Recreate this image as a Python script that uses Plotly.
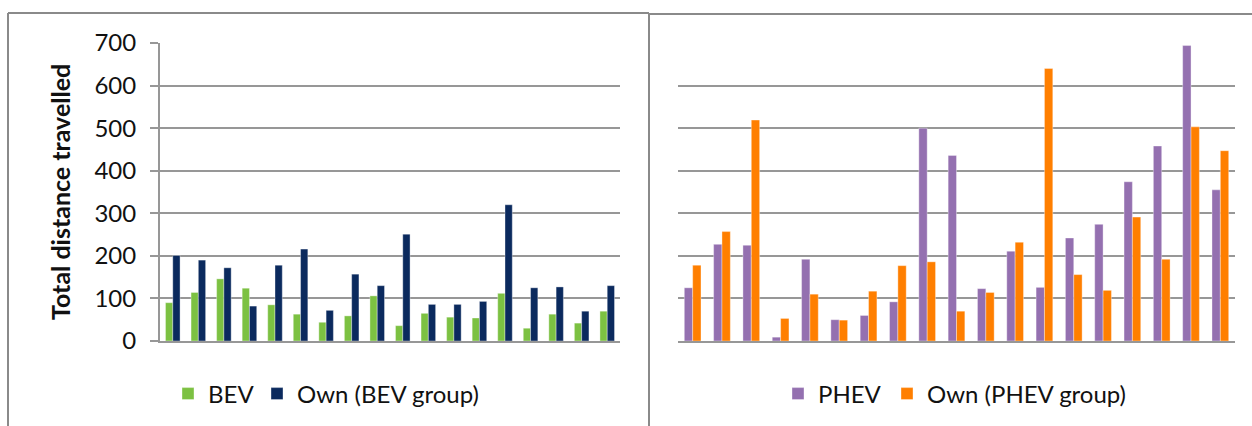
import plotly.graph_objects as go

# --- data -------------------------------------------------------------
bev_ids = [str(i) for i in range(1, 19)]
bev_values = [90, 114, 146, 124, 85, 63, 44, 59, 106, 36, 65, 56, 54, 112, 30, 63, 42, 70]
own_bev_values = [201, 190, 172, 82, 178, 216, 72, 157, 130, 251, 86, 86, 93, 320, 125, 127, 70, 130]

phev_ids = [str(i) for i in range(1, 20)]
phev_values = [125, 227, 225, 9, 192, 50, 60, 92, 500, 436, 123, 211, 126, 242, 274, 374, 458, 694, 355]
own_phev_values = [178, 257, 519, 53, 110, 49, 117, 177, 186, 70, 114, 232, 640, 156, 119, 291, 192, 503, 447]

y_ticks = [0, 100, 200, 300, 400, 500, 600, 700]
y_title = "Total distance travelled"

# --- styling ----------------------------------------------------------
W, H = 1252, 426
FONT = "Lato, 'Open Sans', sans-serif"
GREEN, NAVY = "#7cc142", "#0b2a5e"
PURPLE, ORANGE = "#9470b0", "#ff7f00"
GRID = "#979797"
FRAME = "#8a8a8a"
TEXT = "#111111"


def px_x(x):
    return x / W


def px_y(y):
    return 1 - y / H


fig = go.Figure()

# each series gets its own one-entry legend so the key can be laid out freely
edge = dict(color="rgba(255,255,255,0.6)", width=0.6)
series = [
    (bev_ids, bev_values, "BEV", GREEN, "x", "y", "legend"),
    (bev_ids, own_bev_values, "Own (BEV group)", NAVY, "x", "y", "legend2"),
    (phev_ids, phev_values, "PHEV", PURPLE, "x2", "y2", "legend3"),
    (phev_ids, own_phev_values, "Own (PHEV group)", ORANGE, "x2", "y2", "legend4"),
]
for xs, ys, name, color, xa, ya, lg in series:
    fig.add_trace(go.Bar(x=xs, y=ys, name=name, marker_color=color, marker_line=edge,
                         xaxis=xa, yaxis=ya, legend=lg))

plot_bottom, plot_top = px_y(341), px_y(43)

common_x = dict(showticklabels=False, ticks="", showgrid=False, zeroline=False,
                showline=True, linecolor=GRID, linewidth=2, type="category",
                automargin=False)
common_y = dict(range=[0, 700], tickvals=y_ticks, showgrid=True, gridcolor=GRID,
                gridwidth=2, zeroline=False, domain=[plot_bottom, plot_top],
                automargin=False)

legend_font = dict(family=FONT, size=24, color=TEXT)


def key(text_left):
    return dict(orientation="h", x=px_x(text_left - 40), xanchor="left",
                y=px_y(394), yanchor="middle", font=legend_font,
                bgcolor="rgba(0,0,0,0)")


fig.update_layout(
    width=W, height=H,
    margin=dict(l=0, r=0, t=0, b=0, autoexpand=False),
    paper_bgcolor="white", plot_bgcolor="white",
    barmode="group", bargap=0.43, bargroupgap=0,
    font=dict(family=FONT, color=TEXT),
    xaxis=dict(domain=[px_x(160), px_x(620)], anchor="y", **common_x),
    yaxis=dict(anchor="x", showline=True, linecolor=GRID, linewidth=2,
               ticks="outside", ticklen=8, tickwidth=2, tickcolor=GRID,
               ticklabelstandoff=9,
               tickfont=dict(family=FONT, size=24, color=TEXT), **common_y),
    xaxis2=dict(domain=[px_x(678), px_x(1235)], anchor="y2", **common_x),
    yaxis2=dict(anchor="x2", showline=False, ticks="", showticklabels=False, **common_y),
    legend=key(208),
    legend2=key(297),
    legend3=key(818),
    legend4=key(927),
    showlegend=True,
)

# rotated value-axis title
fig.add_annotation(text=f"<b>{y_title}</b>", textangle=-90, xref="paper", yref="paper",
                   x=px_x(60), y=(plot_bottom + plot_top) / 2, xanchor="center", yanchor="middle",
                   showarrow=False, font=dict(family=FONT, size=25, color=TEXT))

# chart frames
frame = dict(type="line", xref="paper", yref="paper", line=dict(color=FRAME, width=2))
fig.add_shape(x0=px_x(8), x1=px_x(649), y0=px_y(13), y1=px_y(13), **frame)
fig.add_shape(x0=px_x(8), x1=px_x(8), y0=px_y(13), y1=-0.05, **frame)
fig.add_shape(x0=px_x(649), x1=1.01, y0=px_y(14), y1=px_y(14), **frame)
fig.add_shape(x0=px_x(649), x1=px_x(649), y0=px_y(13), y1=-0.05, **frame)

fig.write_html("out.html")
